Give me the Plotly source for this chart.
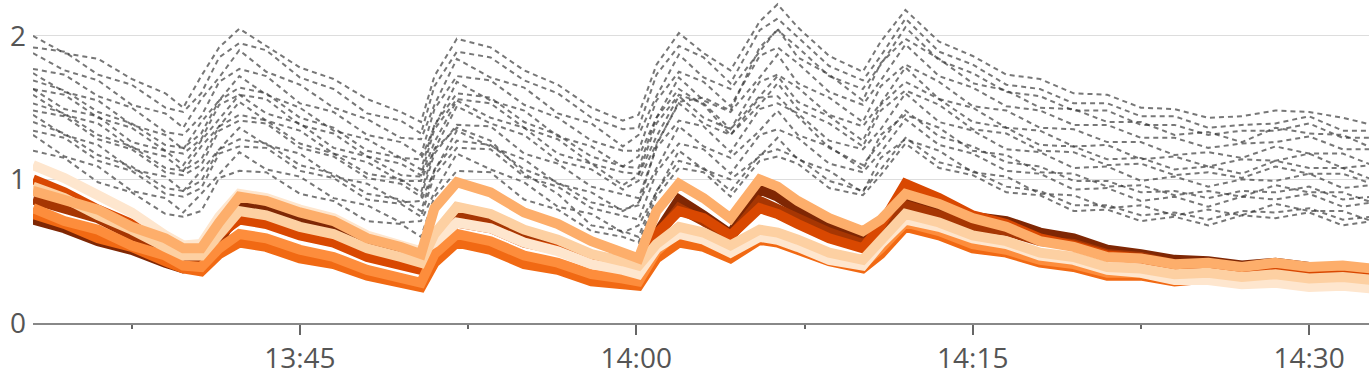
import pandas as pd
import plotly.graph_objects as go

# time grid: minutes after 13:00
minutes = [33.1, 34.5, 36, 37.5, 39, 39.8, 40.6, 41.4, 42.3, 43.5, 45, 46.5, 48, 49.5, 50.4, 51.0,
           52.0, 53.5, 55, 56.5, 58, 59.4, 60.1, 60.9, 61.9, 63, 64.2, 65.5, 66.3, 67.2, 68.6, 70.1,
           70.9, 72, 73.5, 75, 76.5, 78, 79.5, 81, 82.5, 84, 85.5, 87, 88.5, 90, 91.5, 92.8]

# gray dotted series
gray_01 = [2.00,1.88,1.84,1.70,1.60,1.50,1.72,1.92,2.05,1.93,1.78,1.70,1.56,1.47,1.40,1.72,1.98,1.92,1.76,1.66,1.50,1.41,1.45,1.80,2.02,1.88,1.76,2.10,2.22,2.06,1.86,1.75,1.96,2.18,1.96,1.86,1.73,1.70,1.60,1.59,1.50,1.49,1.43,1.44,1.48,1.47,1.43,1.38]
gray_02 = [1.92,1.89,1.73,1.66,1.50,1.47,1.60,1.85,1.95,1.90,1.71,1.63,1.46,1.41,1.32,1.65,1.89,1.85,1.69,1.60,1.43,1.35,1.36,1.73,1.93,1.85,1.67,2.04,2.12,1.99,1.79,1.69,1.86,2.12,1.89,1.80,1.66,1.63,1.53,1.53,1.44,1.44,1.36,1.38,1.39,1.44,1.34,1.34]
gray_03 = [1.88,1.76,1.69,1.52,1.46,1.36,1.56,1.71,1.90,1.75,1.66,1.50,1.42,1.29,1.28,1.52,1.84,1.71,1.64,1.46,1.39,1.23,1.31,1.58,1.87,1.71,1.63,1.89,2.05,1.85,1.73,1.55,1.81,1.98,1.84,1.67,1.62,1.50,1.49,1.40,1.40,1.31,1.33,1.26,1.36,1.32,1.31,1.22]
gray_04 = [1.77,1.73,1.58,1.50,1.33,1.31,1.44,1.68,1.77,1.72,1.53,1.47,1.31,1.26,1.17,1.49,1.72,1.69,1.52,1.43,1.27,1.20,1.20,1.55,1.75,1.68,1.51,1.86,1.92,1.81,1.61,1.52,1.69,1.94,1.72,1.64,1.51,1.48,1.38,1.38,1.29,1.29,1.22,1.25,1.26,1.30,1.21,1.21]
gray_05 = [1.74,1.61,1.55,1.38,1.31,1.21,1.40,1.55,1.72,1.59,1.50,1.34,1.28,1.15,1.14,1.37,1.68,1.55,1.48,1.30,1.23,1.09,1.16,1.43,1.71,1.55,1.47,1.71,1.87,1.67,1.57,1.40,1.65,1.80,1.68,1.51,1.48,1.36,1.35,1.26,1.26,1.17,1.19,1.15,1.23,1.18,1.18,1.10]
gray_06 = [1.63,1.59,1.43,1.36,1.20,1.18,1.28,1.52,1.59,1.56,1.38,1.32,1.16,1.11,1.03,1.35,1.56,1.53,1.36,1.28,1.11,1.05,1.04,1.39,1.59,1.53,1.35,1.68,1.73,1.64,1.45,1.37,1.53,1.78,1.56,1.50,1.36,1.34,1.23,1.24,1.14,1.16,1.09,1.14,1.13,1.18,1.08,1.10]
gray_07 = [1.59,1.45,1.39,1.22,1.16,1.06,1.23,1.37,1.54,1.41,1.34,1.18,1.12,0.99,0.99,1.21,1.51,1.39,1.31,1.13,1.07,0.93,0.99,1.25,1.53,1.39,1.31,1.52,1.67,1.49,1.39,1.23,1.48,1.62,1.52,1.35,1.32,1.20,1.19,1.10,1.11,1.03,1.05,1.01,1.09,1.04,1.04,0.97]
gray_08 = [1.48,1.44,1.28,1.21,1.05,1.03,1.10,1.34,1.41,1.39,1.22,1.16,1.01,0.97,0.88,1.18,1.38,1.37,1.18,1.11,0.95,0.90,0.87,1.22,1.41,1.37,1.19,1.49,1.53,1.46,1.27,1.21,1.35,1.60,1.40,1.34,1.21,1.19,1.08,1.09,0.99,1.02,0.95,1.00,0.99,1.04,0.94,0.96]
gray_09 = [1.45,1.31,1.24,1.07,1.02,0.92,1.06,1.21,1.36,1.24,1.18,1.02,0.97,0.84,0.85,1.06,1.34,1.23,1.14,0.97,0.91,0.78,0.84,1.08,1.37,1.23,1.15,1.34,1.48,1.31,1.23,1.07,1.31,1.45,1.36,1.20,1.17,1.05,1.04,0.95,0.96,0.89,0.92,0.88,0.96,0.91,0.91,0.84]
gray_10 = [1.34,1.29,1.13,1.06,0.90,0.88,0.94,1.18,1.23,1.22,1.06,1.01,0.86,0.83,0.74,1.03,1.22,1.21,1.02,0.95,0.80,0.75,0.72,1.05,1.25,1.21,1.04,1.31,1.35,1.29,1.11,1.05,1.19,1.42,1.24,1.18,1.06,1.04,0.93,0.94,0.85,0.88,0.81,0.88,0.86,0.90,0.81,0.84]
gray_11 = [1.31,1.16,1.09,0.92,0.87,0.77,0.90,1.04,1.19,1.07,1.02,0.87,0.82,0.70,0.71,0.91,1.18,1.07,0.98,0.81,0.76,0.63,0.68,0.91,1.20,1.07,1.00,1.16,1.29,1.14,1.06,0.91,1.15,1.28,1.20,1.05,1.02,0.90,0.89,0.80,0.82,0.75,0.79,0.75,0.83,0.78,0.78,0.71]
gray_12 = [1.20,1.15,0.98,0.91,0.76,0.74,0.78,1.01,1.06,1.05,0.90,0.85,0.71,0.69,0.60,0.88,1.06,1.05,0.86,0.79,0.64,0.60,0.56,0.88,1.08,1.05,0.88,1.13,1.16,1.11,0.94,0.89,1.03,1.25,1.08,1.03,0.91,0.89,0.78,0.79,0.71,0.74,0.68,0.75,0.73,0.77,0.68,0.71]
gray_13 = [1.69,1.62,1.47,1.39,1.24,1.22,1.32,1.55,1.64,1.60,1.43,1.36,1.20,1.15,1.07,1.38,1.60,1.57,1.40,1.31,1.16,1.09,1.08,1.43,1.63,1.52,1.31,1.57,1.58,1.44,1.22,1.10,1.26,1.48,1.30,1.23,1.12,1.09,0.99,0.99,0.91,0.92,0.87,0.92,0.91,0.95,0.86,0.88]
gray_14 = [1.40,1.32,1.17,1.09,0.94,0.92,0.99,1.21,1.28,1.25,1.10,1.04,0.90,0.86,0.78,1.07,1.27,1.24,1.07,0.98,0.84,0.79,0.82,1.24,1.54,1.57,1.48,1.92,2.04,1.92,1.72,1.63,1.80,2.06,1.83,1.74,1.61,1.58,1.48,1.48,1.38,1.38,1.31,1.34,1.34,1.39,1.29,1.29]
gray_15 = [1.63,1.49,1.44,1.26,1.20,1.10,1.27,1.42,1.59,1.46,1.39,1.22,1.16,1.03,1.02,1.26,1.55,1.43,1.36,1.18,1.11,0.96,1.03,1.30,1.58,1.43,1.35,1.58,1.72,1.54,1.44,1.27,1.52,1.68,1.56,1.40,1.36,1.24,1.23,1.14,1.15,1.07,1.09,1.04,1.13,1.08,1.08,1.00]
gray_16 = [1.53,1.46,1.31,1.23,1.08,1.06,1.14,1.37,1.45,1.41,1.25,1.18,1.04,1.00,0.91,1.21,1.36,1.27,1.04,0.90,0.68,0.64,0.60,0.92,1.13,1.08,0.92,1.17,1.21,1.15,0.99,0.92,1.07,1.29,1.12,1.06,0.95,0.92,0.82,0.82,0.75,0.77,0.72,0.78,0.77,0.80,0.72,0.74]

# orange series (dark to light)
orange_1 = [0.72,0.66,0.57,0.51,0.42,0.38,0.40,0.55,0.84,0.81,0.73,0.68,0.55,0.45,0.40,0.55,0.80,0.73,0.61,0.56,0.47,0.43,0.40,0.62,0.86,0.75,0.62,0.93,0.88,0.79,0.67,0.58,0.66,0.88,0.81,0.74,0.71,0.63,0.59,0.51,0.48,0.44,0.43,0.40,0.42,0.39,0.39,0.37]
orange_2 = [0.86,0.79,0.73,0.61,0.53,0.46,0.46,0.60,0.74,0.71,0.63,0.59,0.49,0.44,0.40,0.60,0.75,0.71,0.61,0.55,0.46,0.42,0.40,0.60,0.80,0.71,0.60,0.85,0.80,0.73,0.63,0.55,0.62,0.82,0.75,0.67,0.64,0.57,0.55,0.48,0.46,0.41,0.41,0.37,0.40,0.37,0.37,0.35]
orange_3 = [1.00,0.91,0.79,0.69,0.55,0.50,0.48,0.62,0.72,0.69,0.61,0.56,0.46,0.41,0.37,0.58,0.70,0.66,0.56,0.51,0.42,0.39,0.37,0.62,0.78,0.73,0.61,0.80,0.76,0.69,0.59,0.52,0.68,0.97,0.87,0.75,0.69,0.59,0.54,0.47,0.45,0.39,0.39,0.36,0.37,0.34,0.35,0.33]
orange_4 = [0.76,0.69,0.59,0.53,0.43,0.38,0.36,0.48,0.56,0.53,0.45,0.41,0.33,0.29,0.25,0.42,0.56,0.51,0.41,0.37,0.29,0.27,0.26,0.45,0.56,0.53,0.45,0.58,0.56,0.51,0.43,0.38,0.48,0.67,0.61,0.52,0.49,0.42,0.39,0.33,0.33,0.29,0.31,0.28,0.31,0.28,0.29,0.28]
orange_5 = [0.80,0.71,0.65,0.54,0.47,0.40,0.39,0.52,0.62,0.59,0.51,0.46,0.37,0.32,0.28,0.48,0.62,0.57,0.47,0.42,0.34,0.31,0.29,0.50,0.64,0.59,0.49,0.62,0.60,0.55,0.46,0.41,0.52,0.70,0.64,0.55,0.51,0.44,0.41,0.35,0.35,0.31,0.32,0.29,0.32,0.29,0.31,0.29]
orange_6 = [1.10,1.01,0.89,0.77,0.61,0.54,0.55,0.74,0.90,0.87,0.79,0.73,0.61,0.54,0.50,0.56,0.70,0.66,0.56,0.50,0.41,0.37,0.34,0.52,0.62,0.58,0.49,0.60,0.58,0.53,0.44,0.40,0.55,0.72,0.67,0.59,0.55,0.47,0.44,0.37,0.35,0.30,0.30,0.27,0.28,0.25,0.26,0.24]
orange_7 = [0.95,0.87,0.75,0.65,0.53,0.47,0.47,0.62,0.78,0.75,0.67,0.62,0.52,0.46,0.42,0.62,0.81,0.76,0.65,0.58,0.48,0.43,0.40,0.55,0.67,0.63,0.54,0.65,0.63,0.58,0.49,0.44,0.58,0.76,0.70,0.61,0.57,0.49,0.46,0.39,0.38,0.34,0.35,0.32,0.34,0.31,0.32,0.30]
orange_8 = [0.92,0.85,0.79,0.67,0.59,0.52,0.52,0.70,0.88,0.85,0.77,0.71,0.59,0.53,0.48,0.80,0.98,0.91,0.77,0.69,0.57,0.49,0.45,0.78,0.97,0.87,0.73,1.00,0.95,0.85,0.73,0.64,0.72,0.90,0.83,0.73,0.67,0.57,0.53,0.46,0.45,0.41,0.42,0.39,0.42,0.39,0.40,0.38]

gray_series = [gray_01, gray_02, gray_03, gray_04, gray_05, gray_06, gray_07, gray_08,
               gray_09, gray_10, gray_11, gray_12, gray_13, gray_14, gray_15, gray_16]
orange_series = [orange_1, orange_2, orange_3, orange_4, orange_5, orange_6, orange_7, orange_8]
orange_colors = ["#7f2704", "#a63603", "#d94801", "#f16913", "#fd8d3c", "#fee6ce", "#fdd0a2", "#fdae6b"]

base = pd.Timestamp("2024-01-01 13:00:00")
times = [base + pd.Timedelta(minutes=m) for m in minutes]

fig = go.Figure()
for s in gray_series:
    fig.add_trace(go.Scatter(x=times, y=s, mode="lines",
                             line=dict(color="rgba(55,55,55,0.68)", width=2, dash="5px,4px"),
                             hoverinfo="skip", showlegend=False))
for s, c in zip(orange_series, orange_colors):
    fig.add_trace(go.Scatter(x=times, y=s, mode="lines",
                             line=dict(color=c, width=10),
                             hoverinfo="skip", showlegend=False))

font = dict(family="Open Sans", size=28, color="#555555")
fig.update_layout(
    width=1369, height=375,
    margin=dict(l=33, r=0, t=0, b=52),
    paper_bgcolor="white", plot_bgcolor="white",
    showlegend=False,
    font=font,
)
fig.update_xaxes(
    range=[base + pd.Timedelta(minutes=33.1), base + pd.Timedelta(minutes=92.67)],
    tick0=base + pd.Timedelta(minutes=45), dtick=15 * 60 * 1000,
    tickformat="%H:%M", ticks="outside", ticklen=10, tickwidth=1.5, tickcolor="#666",
    minor=dict(dtick=7.5 * 60 * 1000, ticks="outside", ticklen=4, tickwidth=1.5, tickcolor="#666"),
    showline=True, linecolor="#888", linewidth=1.5,
    showgrid=False, zeroline=False, tickfont=font,
)
fig.update_yaxes(
    range=[0, 2.25], tickvals=[0, 1, 2], ticktext=["0", "1", "2"],
    showgrid=True, gridcolor="#dddddd", gridwidth=1,
    zeroline=False, showline=False, ticks="", ticklabelstandoff=6, tickfont=font,
)

fig.write_html("out.html")
